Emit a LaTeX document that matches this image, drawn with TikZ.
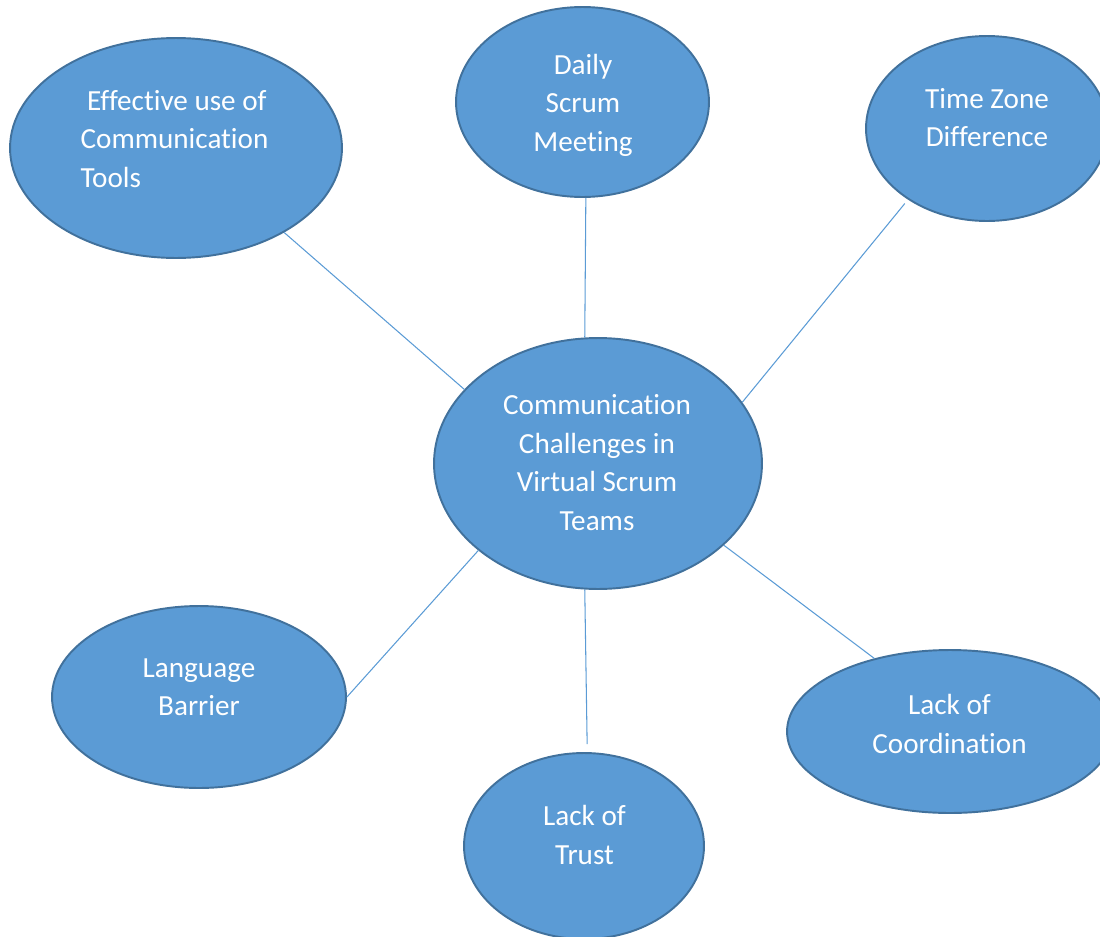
\documentclass[tikz,border=0pt]{standalone}
\usepackage{fontspec}
\setmainfont{Carlito}[Ligatures=NoCommon]
\usetikzlibrary{shapes.geometric}
\definecolor{bubblefill}{HTML}{5B9BD5}
\definecolor{bubbleline}{HTML}{41719C}
\tikzset{
  bubble/.style={ellipse, draw=bubbleline, fill=bubblefill, line width=1.1pt, inner sep=0pt},
  caption/.style={text=white, align=center, inner sep=0pt, font=\fontsize{16.6}{21.9}\selectfont},
  spoke/.style={draw=bubblefill, line width=0.6pt}
}
\begin{document}
\begin{tikzpicture}[x=0.02cm, y=-0.02cm]
      \useasboundingbox (0,0) rectangle (1100,937);
      \node[bubble, minimum width=6.56cm, minimum height=5.02cm] (hub) at (598,463.5) {};
      \node[bubble, minimum width=6.64cm, minimum height=4.40cm] (tools) at (176,148) {};
      \node[bubble, minimum width=5.06cm, minimum height=3.80cm] (daily) at (582.5,102) {};
      \node[bubble, minimum width=4.84cm, minimum height=3.70cm] (zone) at (987,128.5) {};
      \node[bubble, minimum width=5.88cm, minimum height=3.64cm] (lang) at (199,697) {};
      \node[bubble, minimum width=4.80cm, minimum height=3.72cm] (trust) at (584,846) {};
      \node[bubble, minimum width=6.52cm, minimum height=3.26cm] (coord) at (950,731.5) {};
      \node[caption] (hubtext) at (597,462.5) {Communication\\Challenges in\\Virtual Scrum\\Teams};
      \node[caption, align=left] (toolstext) at (174.5,139) {\hspace*{0.13cm}Effective use of\\Communication\\Tools};
      \node[caption] (dailytext) at (583,105) {Daily\\Scrum\\Meeting};
      \node[caption] (zonetext) at (987,117.5) {Time Zone\\Difference};
      \node[caption] (langtext) at (199,687) {Language\\Barrier};
      \node[caption] (trusttext) at (584.5,835) {Lack of\\Trust};
      \node[caption] (coordtext) at (949.5,724) {Lack of\\Coordination};
      \begin{scope}[spoke]
        \draw (tools.-38.5) to (hub.151.4);
        \draw (daily.-88.5) to (hub.96);
        \draw[shorten <=0.1cm] (zone.222.4) to (hub.23);
        \draw (lang.0.8) to (hub.216.9);
        \draw[shorten >=0.16cm] (hub.264.6) to (trust.88.9);
        \draw (coord.136.7) to (hub.-33.6);
      \end{scope}
    \end{tikzpicture}
\end{document}
